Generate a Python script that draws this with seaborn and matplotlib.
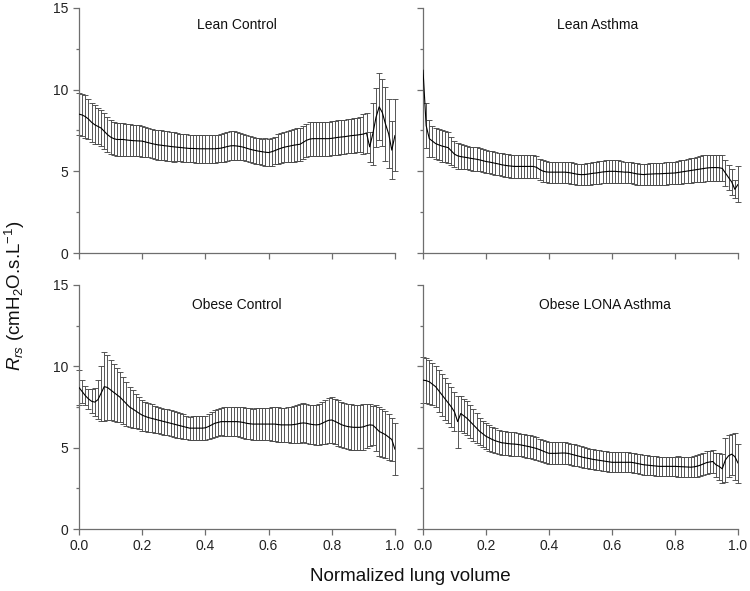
"""
Respiratory system resistance (Rrs) across normalized lung volume
Four groups: lean / obese, control / asthma
"""

import matplotlib
matplotlib.use('Agg')
import matplotlib.pyplot as plt
from matplotlib.ticker import MultipleLocator
import numpy as np
import pandas as pd
import seaborn as sns

# Normalized lung volume, 0.00 .. 1.00 in steps of 0.01
volume = [round(i / 100, 2) for i in range(101)]

lean_control_mean = [
    8.50, 8.45, 8.35, 8.20, 8.00, 7.85, 7.75, 7.65, 7.45, 7.25,
    7.10, 7.00, 6.95, 6.95, 6.95, 6.92, 6.90, 6.88, 6.87, 6.86,
    6.85, 6.80, 6.75, 6.70, 6.66, 6.62, 6.60, 6.57, 6.55, 6.52,
    6.50, 6.48, 6.46, 6.44, 6.42, 6.40, 6.40, 6.39, 6.38, 6.38,
    6.38, 6.38, 6.38, 6.38, 6.40, 6.42, 6.47, 6.52, 6.56, 6.57,
    6.55, 6.52, 6.48, 6.42, 6.36, 6.31, 6.27, 6.23, 6.20, 6.17,
    6.15, 6.20, 6.27, 6.35, 6.42, 6.48, 6.52, 6.56, 6.60, 6.63,
    6.66, 6.78, 6.90, 6.97, 7.00, 7.00, 7.00, 7.00, 7.00, 7.00,
    7.02, 7.05, 7.08, 7.10, 7.12, 7.15, 7.18, 7.20, 7.22, 7.25,
    7.28, 7.35, 6.50, 7.30, 8.30, 8.95, 8.60, 7.90, 7.30, 6.30,
    7.20]
lean_control_sd = [
    1.30, 1.30, 1.30, 1.20, 1.20, 1.20, 1.10, 1.10, 1.10, 1.05,
    1.05, 1.00, 1.00, 1.00, 1.00, 1.00, 0.98, 0.97, 0.96, 0.95,
    0.95, 0.92, 0.90, 0.90, 0.90, 0.90, 0.90, 0.90, 0.90, 0.90,
    0.90, 0.85, 0.85, 0.85, 0.85, 0.85, 0.85, 0.85, 0.85, 0.85,
    0.85, 0.85, 0.85, 0.85, 0.85, 0.85, 0.88, 0.88, 0.88, 0.88,
    0.88, 0.80, 0.80, 0.80, 0.80, 0.80, 0.80, 0.80, 0.80, 0.85,
    0.85, 0.85, 0.85, 0.92, 0.92, 0.92, 0.92, 1.00, 1.00, 1.00,
    1.00, 1.00, 1.00, 1.05, 1.05, 1.05, 1.05, 1.05, 1.05, 1.05,
    1.05, 1.05, 1.05, 1.05, 1.05, 1.05, 1.05, 1.05, 1.05, 1.05,
    1.20, 1.20, 0.90, 1.90, 1.80, 2.05, 2.05, 2.25, 2.10, 1.80,
    2.20]

lean_asthma_mean = [
    11.20, 7.80, 7.00, 6.85, 6.70, 6.62, 6.55, 6.50, 6.45, 6.25,
    6.05, 5.95, 5.90, 5.87, 5.84, 5.80, 5.77, 5.74, 5.70, 5.65,
    5.60, 5.57, 5.53, 5.49, 5.45, 5.40, 5.37, 5.34, 5.32, 5.30,
    5.30, 5.30, 5.30, 5.30, 5.30, 5.30, 5.25, 5.12, 5.02, 4.97,
    4.95, 4.95, 4.95, 4.95, 4.95, 4.95, 4.93, 4.90, 4.86, 4.82,
    4.80, 4.80, 4.82, 4.85, 4.88, 4.90, 4.93, 4.96, 4.98, 5.00,
    5.00, 5.00, 4.98, 4.97, 4.95, 4.95, 4.92, 4.88, 4.84, 4.82,
    4.80, 4.82, 4.83, 4.84, 4.85, 4.85, 4.86, 4.87, 4.88, 4.89,
    4.90, 4.93, 4.96, 4.99, 5.02, 5.05, 5.08, 5.11, 5.14, 5.17,
    5.20, 5.22, 5.23, 5.23, 5.22, 5.18, 4.90, 4.62, 4.35, 3.90,
    4.20]
lean_asthma_sd = [
    np.nan, 1.40, 1.15, 0.95, 0.95, 0.95, 0.95, 0.95, 0.95, 0.85,
    0.80, 0.78, 0.76, 0.74, 0.72, 0.72, 0.72, 0.72, 0.70, 0.70,
    0.70, 0.70, 0.70, 0.70, 0.70, 0.70, 0.70, 0.70, 0.70, 0.70,
    0.70, 0.68, 0.68, 0.68, 0.68, 0.68, 0.66, 0.65, 0.65, 0.65,
    0.65, 0.65, 0.65, 0.65, 0.65, 0.65, 0.65, 0.65, 0.65, 0.65,
    0.65, 0.65, 0.66, 0.67, 0.68, 0.68, 0.70, 0.70, 0.72, 0.72,
    0.72, 0.72, 0.70, 0.68, 0.65, 0.65, 0.65, 0.65, 0.65, 0.65,
    0.65, 0.65, 0.65, 0.66, 0.68, 0.68, 0.68, 0.68, 0.68, 0.68,
    0.70, 0.70, 0.72, 0.72, 0.74, 0.75, 0.76, 0.78, 0.80, 0.80,
    0.80, 0.80, 0.80, 0.80, 0.80, 0.80, 0.80, 0.78, 0.78, 0.55,
    1.10]

obese_control_mean = [
    8.70, 8.45, 8.20, 8.00, 7.85, 7.80, 7.95, 8.35, 8.75, 8.70,
    8.55, 8.40, 8.25, 8.10, 7.90, 7.70, 7.50, 7.38, 7.25, 7.12,
    7.00, 6.92, 6.85, 6.80, 6.75, 6.70, 6.65, 6.60, 6.55, 6.50,
    6.45, 6.40, 6.35, 6.30, 6.25, 6.20, 6.20, 6.20, 6.20, 6.20,
    6.22, 6.30, 6.40, 6.50, 6.55, 6.60, 6.60, 6.60, 6.60, 6.60,
    6.60, 6.58, 6.55, 6.50, 6.47, 6.45, 6.45, 6.45, 6.45, 6.45,
    6.45, 6.45, 6.45, 6.42, 6.40, 6.40, 6.40, 6.40, 6.42, 6.45,
    6.50, 6.52, 6.50, 6.45, 6.42, 6.40, 6.42, 6.50, 6.60, 6.68,
    6.70, 6.62, 6.52, 6.42, 6.35, 6.30, 6.27, 6.25, 6.25, 6.25,
    6.28, 6.35, 6.40, 6.38, 6.20, 6.00, 5.90, 5.80, 5.65, 5.50,
    4.90]
obese_control_sd = [
    1.10, 0.70, 0.60, 0.60, 0.75, 0.85, 1.20, 1.70, 2.10, 2.00,
    1.85, 1.75, 1.65, 1.55, 1.45, 1.35, 1.25, 1.15, 1.05, 1.00,
    0.95, 0.90, 0.88, 0.86, 0.84, 0.82, 0.80, 0.80, 0.80, 0.80,
    0.80, 0.78, 0.76, 0.74, 0.72, 0.70, 0.72, 0.74, 0.75, 0.75,
    0.75, 0.78, 0.80, 0.82, 0.84, 0.85, 0.88, 0.90, 0.90, 0.90,
    0.90, 0.92, 0.95, 0.95, 0.95, 0.95, 0.98, 1.00, 1.00, 1.00,
    1.00, 1.02, 1.05, 1.05, 1.05, 1.05, 1.08, 1.10, 1.15, 1.18,
    1.20, 1.20, 1.20, 1.20, 1.20, 1.22, 1.26, 1.30, 1.35, 1.40,
    1.40, 1.40, 1.40, 1.40, 1.40, 1.40, 1.40, 1.40, 1.40, 1.40,
    1.40, 1.35, 1.30, 1.20, 1.40, 1.50, 1.50, 1.45, 1.40, 1.35,
    1.60]

obese_asthma_mean = [
    9.15, 9.12, 9.05, 8.90, 8.75, 8.50, 8.25, 8.00, 7.75, 7.50,
    7.20, 6.60, 7.10, 6.95, 6.80, 6.60, 6.40, 6.20, 6.00, 5.85,
    5.70, 5.60, 5.50, 5.42, 5.36, 5.30, 5.28, 5.25, 5.23, 5.22,
    5.20, 5.17, 5.13, 5.09, 5.05, 5.00, 4.95, 4.88, 4.80, 4.72,
    4.65, 4.65, 4.65, 4.66, 4.67, 4.67, 4.65, 4.60, 4.55, 4.50,
    4.45, 4.40, 4.36, 4.32, 4.28, 4.25, 4.22, 4.19, 4.16, 4.13,
    4.10, 4.10, 4.10, 4.10, 4.10, 4.10, 4.10, 4.07, 4.03, 3.99,
    3.95, 3.93, 3.91, 3.89, 3.87, 3.85, 3.85, 3.85, 3.85, 3.85,
    3.85, 3.84, 3.83, 3.82, 3.81, 3.80, 3.82, 3.86, 3.92, 4.00,
    4.08, 4.12, 4.15, 3.95, 3.85, 3.70, 4.25, 4.50, 4.60, 4.45,
    4.05]
obese_asthma_sd = [
    1.40, 1.40, 1.35, 1.30, 1.28, 1.30, 1.30, 1.30, 1.25, 1.25,
    1.20, 1.60, 1.10, 1.05, 1.05, 1.00, 1.00, 0.90, 0.85, 0.80,
    0.80, 0.78, 0.77, 0.76, 0.75, 0.75, 0.72, 0.72, 0.72, 0.72,
    0.72, 0.70, 0.70, 0.70, 0.70, 0.70, 0.68, 0.68, 0.68, 0.68,
    0.68, 0.68, 0.68, 0.68, 0.68, 0.68, 0.65, 0.65, 0.65, 0.65,
    0.65, 0.62, 0.62, 0.62, 0.62, 0.62, 0.62, 0.62, 0.62, 0.62,
    0.62, 0.62, 0.62, 0.62, 0.62, 0.62, 0.60, 0.60, 0.60, 0.60,
    0.60, 0.60, 0.60, 0.60, 0.60, 0.60, 0.60, 0.60, 0.60, 0.60,
    0.60, 0.62, 0.62, 0.62, 0.62, 0.62, 0.65, 0.66, 0.68, 0.70,
    0.70, 0.70, 0.70, 0.75, 0.85, 0.90, 1.35, 1.30, 1.25, 1.45,
    1.20]

panel_titles = ['Lean Control', 'Lean Asthma', 'Obese Control', 'Obese LONA Asthma']
panel_means = [lean_control_mean, lean_asthma_mean, obese_control_mean, obese_asthma_mean]
panel_sds = [lean_control_sd, lean_asthma_sd, obese_control_sd, obese_asthma_sd]

x_ticks = [0.0, 0.2, 0.4, 0.6, 0.8, 1.0]
y_ticks = [0, 5, 10, 15]

sns.set_style('ticks')
plt.rcParams['font.family'] = ['Liberation Sans', 'DejaVu Sans']
plt.rcParams['mathtext.fontset'] = 'custom'
plt.rcParams['mathtext.rm'] = 'Liberation Sans'
plt.rcParams['mathtext.it'] = 'Liberation Sans:italic'

fig = plt.figure(figsize=(7.5, 5.91), dpi=100)

# panel positions in figure fractions: left, bottom, width, height
positions = [
    [0.1053, 0.5719, 0.4213, 0.4146],
    [0.5640, 0.5719, 0.4200, 0.4146],
    [0.1053, 0.1049, 0.4213, 0.4129],
    [0.5640, 0.1049, 0.4200, 0.4129],
]
title_x = [0.50, 0.555, 0.50, 0.578]
title_y = [0.93, 0.93, 0.92, 0.92]

axis_grey = '#6e6e6e'

for k in range(4):
    ax = fig.add_axes(positions[k])
    df = pd.DataFrame({'volume': volume,
                       'rrs': panel_means[k],
                       'sd': panel_sds[k]})

    bars = ax.errorbar(df['volume'], df['rrs'], yerr=df['sd'], fmt='none',
                       ecolor='#4a4a4a', elinewidth=0.65, capsize=2.0,
                       capthick=0.65, zorder=2)
    for artist in bars.lines[1] + bars.lines[2]:
        artist.set_clip_on(False)
    sns.lineplot(data=df, x='volume', y='rrs', ax=ax, color='black',
                 linewidth=0.8, zorder=3)

    ax.set_xlim(0, 1)
    ax.set_ylim(0, 15)
    ax.set_xticks(x_ticks)
    ax.set_yticks(y_ticks)
    ax.yaxis.set_minor_locator(MultipleLocator(2.5))
    ax.set_xlabel('')
    ax.set_ylabel('')

    for side in ['top', 'right']:
        ax.spines[side].set_visible(False)
    for side in ['left', 'bottom']:
        ax.spines[side].set_color(axis_grey)
        ax.spines[side].set_linewidth(0.9)

    ax.tick_params(axis='both', which='major', direction='out', length=4,
                   width=0.9, color=axis_grey, labelsize=10, labelcolor='#222222')
    ax.tick_params(axis='y', which='minor', direction='out', length=2.5,
                   width=0.9, color=axis_grey)

    if k in (0, 1):
        ax.set_xticklabels([])
    else:
        ax.set_xticklabels([f'{t:.1f}' for t in x_ticks])
    if k in (1, 3):
        ax.set_yticklabels([])

    ax.text(title_x[k], title_y[k], panel_titles[k], transform=ax.transAxes,
            ha='center', va='center', fontsize=10, color='#111111')

fig.text(0.547, 0.024, 'Normalized lung volume', ha='center', va='center',
         fontsize=13.5, color='#111111')
fig.text(0.02, 0.5, r'$\mathit{R}_{\mathit{rs}}$ (cmH$_2$O.s.L$^{-1}$)',
         ha='center', va='center', rotation=90, fontsize=13.5, color='#111111')

fig.savefig('out.png', dpi=100)
plt.close(fig)
